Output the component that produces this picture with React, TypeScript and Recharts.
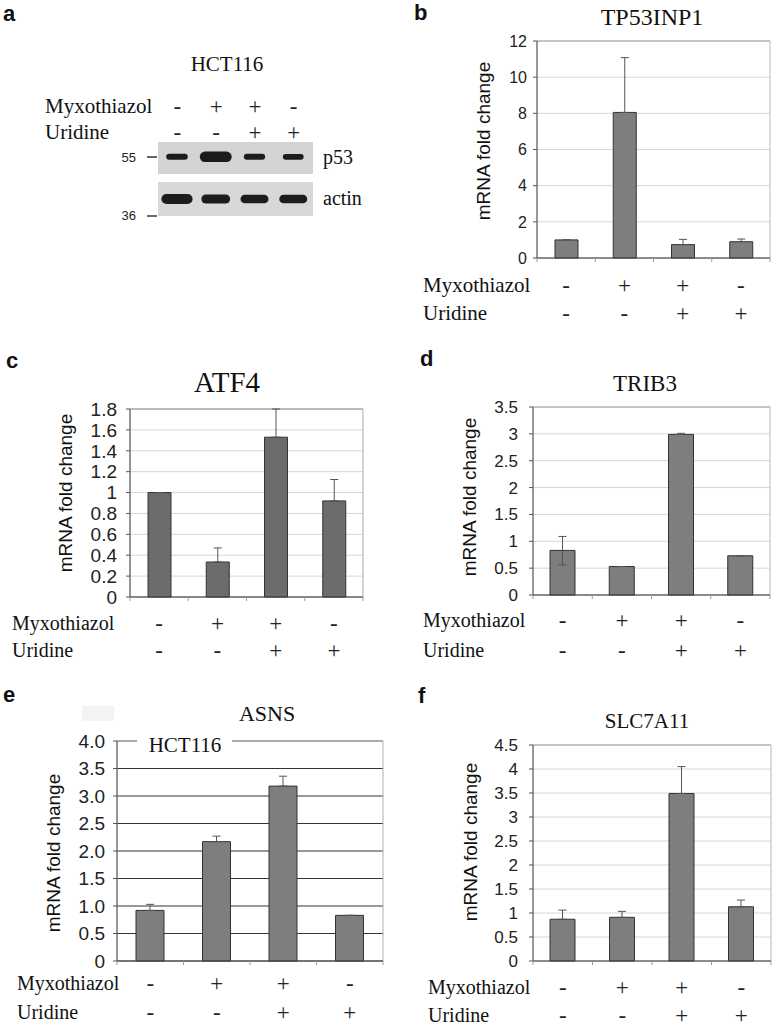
import React from 'react';
import {
  BarChart,
  Bar,
  XAxis,
  YAxis,
  CartesianGrid,
  ErrorBar,
  ReferenceLine,
  ReferenceArea,
  ComposedChart,
} from 'recharts';

// ---------- shared categories ----------
const conditions = ['ctrl', 'myxo', 'myxo+uri', 'uri'];
const myxothiazolSigns = ['-', '+', '+', '-'];
const uridineSigns = ['-', '-', '+', '+'];

// ---------- panel a (western blot, HCT116) ----------
const lanes = ['1', '2', '3', '4'];
const p53Intensity = [0.35, 1, 0.33, 0.3];
const actinIntensity = [0.95, 0.8, 0.75, 0.75];

// ---------- panel b: TP53INP1 ----------
const tp53inp1Mean = [1.0, 8.05, 0.74, 0.9];
const tp53inp1ErrLow = [0, 0, 0, 0];
const tp53inp1ErrHigh = [0, 3.03, 0.29, 0.15];
const tp53inp1Ticks = [0, 2, 4, 6, 8, 10, 12];

// ---------- panel c: ATF4 ----------
const atf4Mean = [1.0, 0.335, 1.53, 0.92];
const atf4ErrLow = [0, 0, 0, 0];
const atf4ErrHigh = [0, 0.135, 0.27, 0.205];
const atf4Ticks = [0, 0.2, 0.4, 0.6, 0.8, 1, 1.2, 1.4, 1.6, 1.8];

// ---------- panel d: TRIB3 ----------
const trib3Mean = [0.83, 0.53, 2.99, 0.73];
const trib3ErrLow = [0.27, 0, 0, 0];
const trib3ErrHigh = [0.26, 0, 0.02, 0.005];
const trib3Ticks = [0, 0.5, 1, 1.5, 2, 2.5, 3, 3.5];

// ---------- panel e: ASNS ----------
const asnsMean = [0.92, 2.17, 3.18, 0.83];
const asnsErrLow = [0, 0, 0, 0];
const asnsErrHigh = [0.11, 0.1, 0.18, 0];
const asnsTicks = [0, 0.5, 1, 1.5, 2, 2.5, 3, 3.5, 4];

// ---------- panel f: SLC7A11 ----------
const slc7a11Mean = [0.87, 0.91, 3.49, 1.13];
const slc7a11ErrLow = [0, 0, 0, 0];
const slc7a11ErrHigh = [0.19, 0.125, 0.56, 0.14];
const slc7a11Ticks = [0, 0.5, 1, 1.5, 2, 2.5, 3, 3.5, 4, 4.5];

const SERIF = '"Liberation Serif", "Times New Roman", serif';
const SANS = '"Liberation Sans", Arial, sans-serif';

function SignTick(props: any) {
  const { x, index, axisY, off1, off2, halfBand, count, showBounds } = props;
  return (
    <g>
      {showBounds && (
        <line x1={x - halfBand} x2={x - halfBand} y1={axisY} y2={axisY + 4} stroke="#999" />
      )}
      {showBounds && index === count - 1 && (
        <line x1={x + halfBand} x2={x + halfBand} y1={axisY} y2={axisY + 4} stroke="#999" />
      )}
      <text x={x} y={axisY + off1} textAnchor="middle" dominantBaseline="central" fontFamily={SERIF} fontSize={23} fill="#222">
        {myxothiazolSigns[index]}
      </text>
      <text x={x} y={axisY + off2} textAnchor="middle" dominantBaseline="central" fontFamily={SERIF} fontSize={23} fill="#222">
        {uridineSigns[index]}
      </text>
    </g>
  );
}

type Rect = { x: number; y: number; w: number; h: number };

function BarPanel(props: {
  rect: Rect;
  mean: number[];
  errLow: number[];
  errHigh: number[];
  ticks: number[];
  fmt?: (v: number) => string;
  tickFont: number;
  tickGap: number;
  barSize: number;
  barFill: string;
  gridColor: string;
  frameColor: string;
  signOff: [number, number];
}) {
  const { rect, mean, errLow, errHigh, ticks, fmt, tickFont, tickGap, barSize, barFill, gridColor, frameColor, signOff } = props;
  const data = conditions.map((c, i) => ({ name: c, value: mean[i], err: [errLow[i], errHigh[i]] }));
  const padL = 70;
  const padT = 10;
  const padR = 10;
  const padB = 75;
  const max = ticks[ticks.length - 1];
  const axisY = padT + rect.h;
  const halfBand = rect.w / (2 * conditions.length);
  return (
    <div style={{ position: 'absolute', left: rect.x - padL, top: rect.y - padT }}>
      <BarChart
        width={rect.w + padL + padR}
        height={rect.h + padT + padB}
        data={data}
        margin={{ top: padT, right: padR, left: 0, bottom: 0 }}
      >
        <CartesianGrid vertical={false} stroke={gridColor} />
        <ReferenceArea y1={0} y2={max} fill="none" fillOpacity={0} stroke={frameColor} strokeWidth={1} />
        <XAxis
          dataKey="name"
          height={padB}
          axisLine={{ stroke: '#444' }}
          tickLine={false}
          interval={0}
          tick={
            <SignTick
              axisY={axisY}
              off1={signOff[0]}
              off2={signOff[1]}
              halfBand={halfBand}
              count={conditions.length}
              showBounds
            />
          }
        />
        <YAxis
          width={padL}
          type="number"
          domain={[0, max]}
          ticks={ticks}
          interval={0}
          tickFormatter={fmt}
          tick={{ fontSize: tickFont, fill: '#222', fontFamily: SANS }}
          tickSize={4}
          tickMargin={tickGap - 4}
          axisLine={{ stroke: '#555' }}
          tickLine={{ stroke: '#555' }}
        />
        <ReferenceLine y={max} stroke={frameColor} />
        <Bar dataKey="value" fill={barFill} stroke="#333" strokeWidth={1} barSize={barSize} isAnimationActive={false}>
          <ErrorBar dataKey="err" width={4} stroke="#555" strokeWidth={1} direction="y" />
        </Bar>
      </BarChart>
    </div>
  );
}

const bandShape = (key: string) => (p: any) => {
  const inten = p.payload[key];
  const w = 16 + 16 * inten;
  const cx = p.x + p.width / 2;
  const h = Math.abs(p.height);
  const y = p.height < 0 ? p.y + p.height : p.y;
  return <rect x={cx - w / 2} y={y} width={w} height={h} rx={h / 2} fill="#1c1c1c" />;
};

function BlotPanel() {
  const p53Row = 80;
  const actinRow = 23;
  const data = lanes.map((l, i) => {
    const tp = 2.5 + 4.5 * p53Intensity[i];
    const ta = 2.5 + 4.5 * actinIntensity[i];
    return {
      lane: l,
      p53: [p53Row - tp, p53Row + tp],
      actin: [actinRow - ta, actinRow + ta],
      p53Int: p53Intensity[i],
      actinInt: actinIntensity[i],
    };
  });
  return (
    <div style={{ position: 'absolute', left: 0, top: 0 }}>
      <ComposedChart width={340} height={230} data={data} margin={{ top: 112, right: 27, left: 158, bottom: 14 }}>
        <XAxis
          xAxisId="p53"
          dataKey="lane"
          orientation="top"
          height={30}
          axisLine={false}
          tickLine={false}
          interval={0}
          tick={<SignTick axisY={0} off1={106} off2={132} halfBand={0} count={4} showBounds={false} />}
        />
        <XAxis xAxisId="actin" dataKey="lane" hide />
        <YAxis hide type="number" domain={[0, 100]} />
        <ReferenceArea xAxisId="p53" y1={56.8} y2={100} fill="#d3d3d3" fillOpacity={1} stroke="none" />
        <ReferenceArea xAxisId="p53" y1={0} y2={46} fill="#d8d8d8" fillOpacity={1} stroke="none" />
        <Bar xAxisId="p53" dataKey="p53" barSize={36} shape={bandShape('p53Int')} isAnimationActive={false} />
        <Bar xAxisId="actin" dataKey="actin" barSize={36} shape={bandShape('actinInt')} isAnimationActive={false} />
      </ComposedChart>
    </div>
  );
}

const fmtE = (v: number) => (v === 0 ? '0' : v.toFixed(1));

export default function App() {
  const letter = { fontFamily: SANS, fontWeight: 700, fontSize: 22, fill: '#111' } as any;
  const serif = (size: number) => ({ fontFamily: SERIF, fontSize: size, fill: '#111' }) as any;
  const ylab = { fontFamily: SANS, fontSize: 19, fill: '#111' } as any;
  return (
    <div style={{ position: 'absolute', left: 0, top: 0, width: 778, height: 1027, background: '#fff', overflow: 'hidden' }}>
      <BlotPanel />
      <BarPanel
        rect={{ x: 537, y: 41, w: 233, h: 217 }}
        mean={tp53inp1Mean}
        errLow={tp53inp1ErrLow}
        errHigh={tp53inp1ErrHigh}
        ticks={tp53inp1Ticks}
        tickFont={16}
        tickGap={10}
        barSize={23}
        barFill="#7e7e7e"
        gridColor="#d6d6d6"
        frameColor="#b8b8b8"
        signOff={[27, 55]}
      />
      <BarPanel
        rect={{ x: 130, y: 409, w: 233, h: 188 }}
        mean={atf4Mean}
        errLow={atf4ErrLow}
        errHigh={atf4ErrHigh}
        ticks={atf4Ticks}
        tickFont={19}
        tickGap={13}
        barSize={23}
        barFill="#6c6c6c"
        gridColor="#d6d6d6"
        frameColor="#aaaaaa"
        signOff={[26, 53]}
      />
      <BarPanel
        rect={{ x: 533, y: 407, w: 237, h: 188 }}
        mean={trib3Mean}
        errLow={trib3ErrLow}
        errHigh={trib3ErrHigh}
        ticks={trib3Ticks}
        tickFont={17}
        tickGap={15}
        barSize={25}
        barFill="#7e7e7e"
        gridColor="#d6d6d6"
        frameColor="#b8b8b8"
        signOff={[25, 55]}
      />
      <BarPanel
        rect={{ x: 117, y: 741, w: 266, h: 220 }}
        mean={asnsMean}
        errLow={asnsErrLow}
        errHigh={asnsErrHigh}
        ticks={asnsTicks}
        fmt={fmtE}
        tickFont={19}
        tickGap={12}
        barSize={28}
        barFill="#7e7e7e"
        gridColor="#333333"
        frameColor="#b0b0b0"
        signOff={[22, 51]}
      />
      <BarPanel
        rect={{ x: 533, y: 745, w: 238, h: 216 }}
        mean={slc7a11Mean}
        errLow={slc7a11ErrLow}
        errHigh={slc7a11ErrHigh}
        ticks={slc7a11Ticks}
        tickFont={17}
        tickGap={15}
        barSize={25}
        barFill="#7e7e7e"
        gridColor="#d6d6d6"
        frameColor="#b8b8b8"
        signOff={[26, 54]}
      />
      <svg width={778} height={1027} style={{ position: 'absolute', left: 0, top: 0, pointerEvents: 'none' }}>
        {/* panel letters */}
        <text x={3} y={21} {...letter}>a</text>
        <text x={414} y={20} {...letter}>b</text>
        <text x={6} y={368} {...letter}>c</text>
        <text x={420} y={366} {...letter}>d</text>
        <text x={3} y={702} {...letter}>e</text>
        <text x={418} y={703} {...letter}>f</text>

        {/* panel a texts */}
        <text x={227} y={71} textAnchor="middle" {...serif(21)}>HCT116</text>
        <text x={45} y={106} dominantBaseline="central" {...serif(21)}>Myxothiazol</text>
        <text x={45} y={132} dominantBaseline="central" {...serif(21)}>Uridine</text>
        <text x={136} y={157} textAnchor="end" dominantBaseline="central" fontFamily={SANS} fontSize={13} fill="#222">55</text>
        <line x1={147} x2={157} y1={157} y2={157} stroke="#333" strokeWidth={1.5} />
        <text x={136} y={215} textAnchor="end" dominantBaseline="central" fontFamily={SANS} fontSize={13} fill="#222">36</text>
        <line x1={147} x2={157} y1={216} y2={216} stroke="#333" strokeWidth={1.5} />
        <text x={323} y={157} dominantBaseline="central" {...serif(20)}>p53</text>
        <text x={323} y={198} dominantBaseline="central" {...serif(20)}>actin</text>

        {/* panel b texts */}
        <text x={652} y={25} textAnchor="middle" {...serif(24)}>TP53INP1</text>
        <text transform="translate(483,141) rotate(-90)" textAnchor="middle" dominantBaseline="central" {...ylab}>mRNA fold change</text>
        <text x={423} y={285} dominantBaseline="central" {...serif(21)}>Myxothiazol</text>
        <text x={423} y={313} dominantBaseline="central" {...serif(21)}>Uridine</text>

        {/* panel c texts */}
        <text x={227} y={392} textAnchor="middle" {...serif(29)}>ATF4</text>
        <text transform="translate(65,493) rotate(-90)" textAnchor="middle" dominantBaseline="central" {...ylab}>mRNA fold change</text>
        <text x={12} y={623} dominantBaseline="central" {...serif(20)}>Myxothiazol</text>
        <text x={12} y={650} dominantBaseline="central" {...serif(20)}>Uridine</text>

        {/* panel d texts */}
        <text x={645} y={391} textAnchor="middle" {...serif(23)}>TRIB3</text>
        <text transform="translate(469,497) rotate(-90)" textAnchor="middle" dominantBaseline="central" {...ylab}>mRNA fold change</text>
        <text x={423} y={620} dominantBaseline="central" {...serif(20)}>Myxothiazol</text>
        <text x={423} y={650} dominantBaseline="central" {...serif(20)}>Uridine</text>

        {/* panel e texts */}
        <rect x={82} y={706} width={32} height={15} fill="#f4f4f4" />
        <text x={267} y={721} textAnchor="middle" {...serif(22)}>ASNS</text>
        <rect x={137} y={735} width={95} height={14} fill="#fff" />
        <text x={185} y={752} textAnchor="middle" {...serif(21)}>HCT116</text>
        <text transform="translate(53,853) rotate(-90)" textAnchor="middle" dominantBaseline="central" {...ylab}>mRNA fold change</text>
        <text x={17} y={983} dominantBaseline="central" {...serif(20)}>Myxothiazol</text>
        <text x={17} y={1012} dominantBaseline="central" {...serif(20)}>Uridine</text>

        {/* panel f texts */}
        <text x={647} y={728} textAnchor="middle" {...serif(21)}>SLC7A11</text>
        <text transform="translate(470,842) rotate(-90)" textAnchor="middle" dominantBaseline="central" {...ylab}>mRNA fold change</text>
        <text x={428} y={987} dominantBaseline="central" {...serif(20)}>Myxothiazol</text>
        <text x={428} y={1015} dominantBaseline="central" {...serif(20)}>Uridine</text>
      </svg>
    </div>
  );
}
